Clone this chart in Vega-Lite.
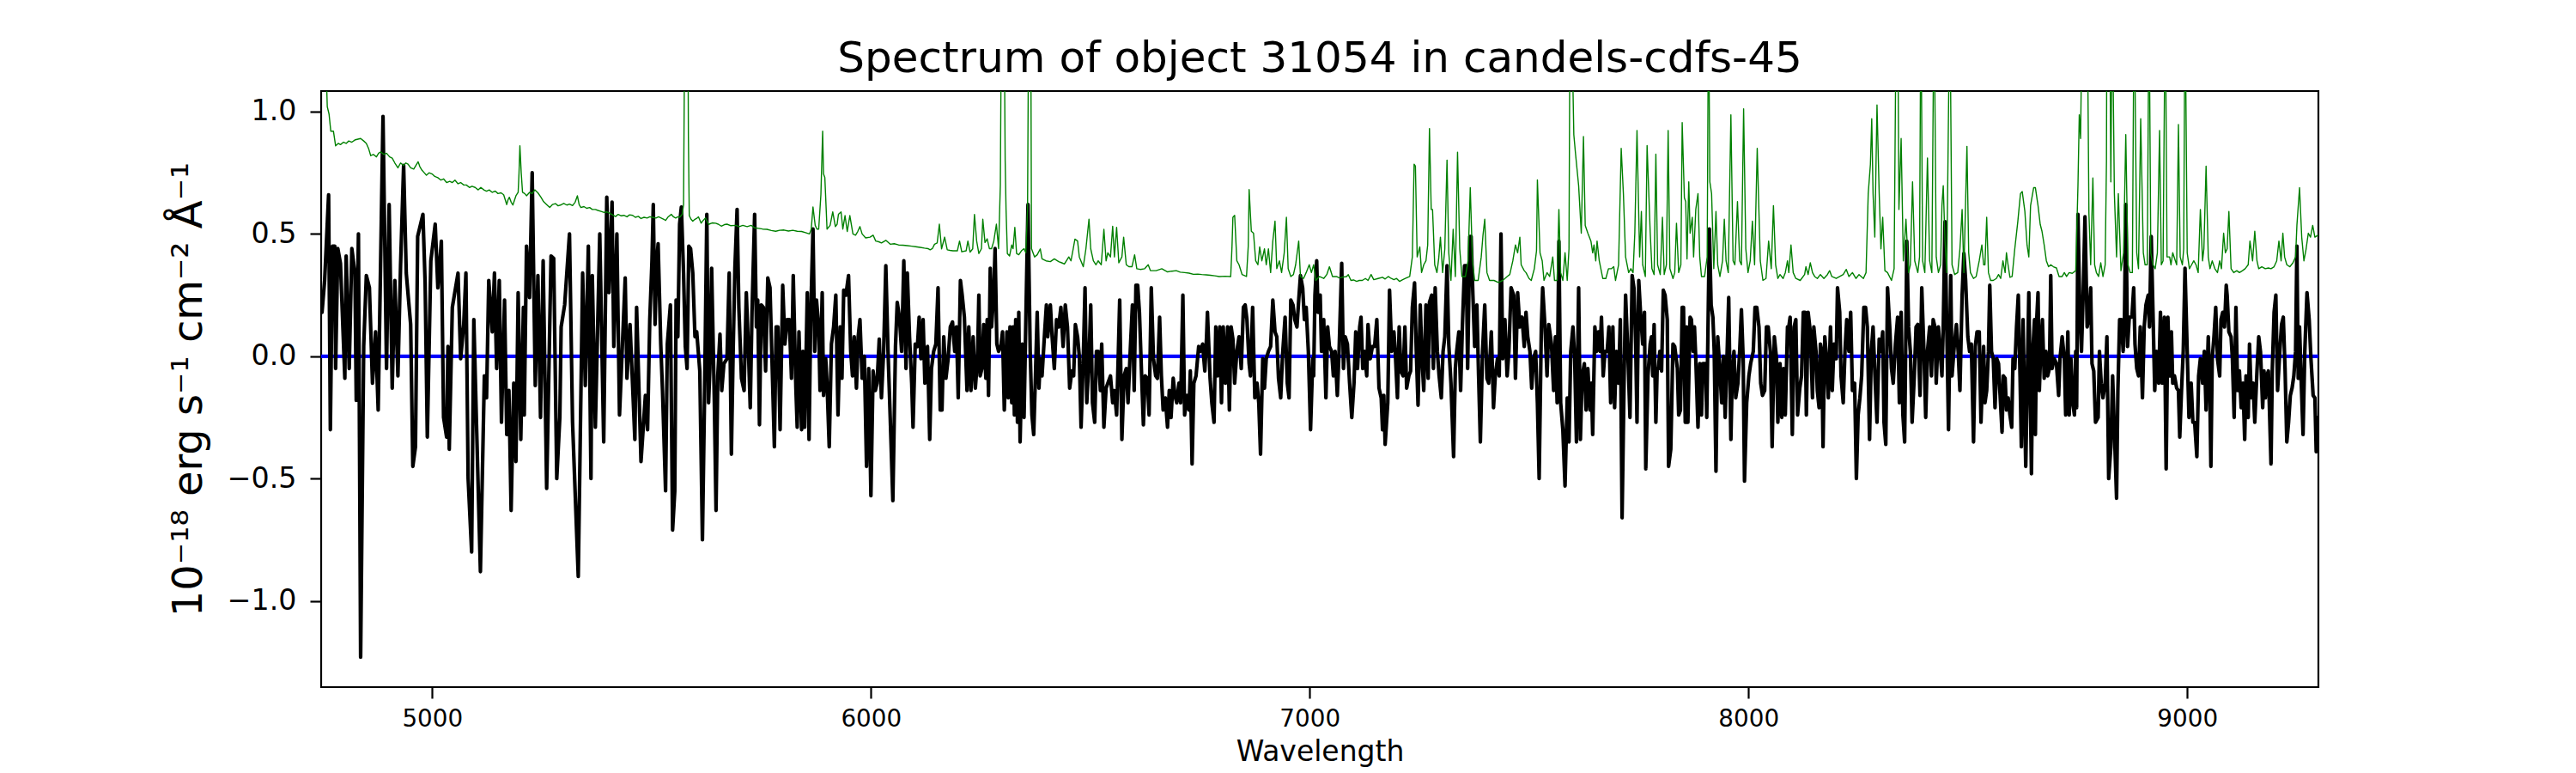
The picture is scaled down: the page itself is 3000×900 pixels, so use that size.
{
  "$schema": "https://vega.github.io/schema/vega-lite/v6.json",
  "width": 2326,
  "height": 694,
  "autosize": {"type": "none"},
  "padding": {"left": 374, "top": 106, "right": 300, "bottom": 100},
  "background": "white",
  "title": {
    "text": "Spectrum of object 31054 in candels-cdfs-45",
    "font": "DejaVu Sans",
    "fontSize": 50,
    "fontWeight": "normal",
    "color": "black",
    "frame": "group",
    "anchor": "middle",
    "baseline": "alphabetic",
    "offset": 22,
    "dy": 50
  },
  "config": {
    "view": {"stroke": "black", "strokeWidth": 2.2},
    "axis": {
      "domain": false,
      "grid": false,
      "ticks": true,
      "tickColor": "black",
      "tickWidth": 2.2,
      "tickSize": 13,
      "labelColor": "black",
      "labelFont": "DejaVu Sans",
      "labelOverlap": false,
      "labelFlush": false,
      "titleFont": "DejaVu Sans",
      "titleColor": "black",
      "titleFontWeight": "normal"
    },
    "line": {"strokeJoin": "round", "strokeCap": "round"}
  },
  "datasets": {
    "flux": [
      {"w":4749,"f":0.18},{"w":4755,"f":0.31},{"w":4764,"f":0.66},{"w":4768,"f":-0.30},{"w":4773,"f":0.45},{"w":4778,"f":0.45},{"w":4780,"f":-0.05},{"w":4785,"f":0.44},{"w":4791,"f":0.38},{"w":4801,"f":-0.09},{"w":4804,"f":0.41},{"w":4811,"f":-0.05},{"w":4817,"f":0.44},{"w":4824,"f":0.34},{"w":4827,"f":-0.18},{"w":4832,"f":0.50},{"w":4837,"f":-1.23},{"w":4844,"f":0.04},{"w":4850,"f":0.33},{"w":4857,"f":0.28},{"w":4864,"f":-0.11},{"w":4871,"f":0.10},{"w":4877,"f":-0.22},{"w":4888,"f":0.98},{"w":4896,"f":-0.05},{"w":4902,"f":0.62},{"w":4909,"f":-0.13},{"w":4915,"f":0.31},{"w":4922,"f":-0.08},{"w":4928,"f":0.37},{"w":4935,"f":0.78},{"w":4941,"f":0.34},{"w":4951,"f":0.13},{"w":4956,"f":-0.45},{"w":4962,"f":-0.37},{"w":4967,"f":0.49},{"w":4979,"f":0.58},{"w":4984,"f":0.30},{"w":4989,"f":-0.33},{"w":4997,"f":0.39},{"w":5007,"f":0.54},{"w":5013,"f":0.28},{"w":5021,"f":0.47},{"w":5026,"f":-0.25},{"w":5033,"f":-0.33},{"w":5036,"f":0.04},{"w":5039,"f":-0.38},{"w":5046,"f":0.20},{"w":5059,"f":0.34},{"w":5065,"f":-0.01},{"w":5072,"f":0.13},{"w":5077,"f":0.34},{"w":5082,"f":-0.50},{"w":5090,"f":-0.80},{"w":5095,"f":0.15},{"w":5101,"f":-0.27},{"w":5110,"f":-0.88},{"w":5119,"f":-0.08},{"w":5124,"f":-0.17},{"w":5129,"f":0.31},{"w":5137,"f":0.10},{"w":5142,"f":0.34},{"w":5147,"f":-0.05},{"w":5153,"f":0.31},{"w":5158,"f":-0.27},{"w":5165,"f":0.23},{"w":5170,"f":-0.32},{"w":5175,"f":-0.14},{"w":5180,"f":-0.63},{"w":5186,"f":-0.11},{"w":5191,"f":-0.43},{"w":5196,"f":0.26},{"w":5202,"f":-0.34},{"w":5208,"f":0.20},{"w":5210,"f":-0.24},{"w":5215,"f":0.45},{"w":5222,"f":0.24},{"w":5228,"f":0.75},{"w":5235,"f":-0.12},{"w":5241,"f":0.33},{"w":5247,"f":-0.25},{"w":5253,"f":0.39},{"w":5261,"f":-0.54},{"w":5271,"f":0.41},{"w":5277,"f":0.40},{"w":5284,"f":-0.50},{"w":5291,"f":-0.25},{"w":5294,"f":0.12},{"w":5302,"f":0.21},{"w":5313,"f":0.50},{"w":5320,"f":-0.27},{"w":5333,"f":-0.90},{"w":5343,"f":0.34},{"w":5349,"f":-0.12},{"w":5356,"f":0.45},{"w":5362,"f":-0.50},{"w":5365,"f":0.33},{"w":5372,"f":-0.29},{"w":5382,"f":0.50},{"w":5391,"f":-0.35},{"w":5398,"f":0.65},{"w":5403,"f":0.26},{"w":5410,"f":0.63},{"w":5414,"f":0.04},{"w":5421,"f":0.50},{"w":5427,"f":-0.24},{"w":5440,"f":0.32},{"w":5444,"f":-0.09},{"w":5451,"f":0.13},{"w":5462,"f":-0.34},{"w":5466,"f":0.20},{"w":5476,"f":-0.43},
      {"w":5486,"f":-0.16},{"w":5491,"f":-0.30},{"w":5496,"f":0.15},{"w":5501,"f":0.39},{"w":5504,"f":0.62},{"w":5508,"f":0.13},{"w":5512,"f":0.39},{"w":5515,"f":0.46},{"w":5521,"f":0.05},{"w":5525,"f":-0.14},{"w":5532,"f":-0.55},{"w":5536,"f":0.05},{"w":5543,"f":0.21},{"w":5548,"f":-0.71},{"w":5553,"f":-0.55},{"w":5556,"f":0.23},{"w":5560,"f":0.08},{"w":5564,"f":0.54},{"w":5568,"f":0.61},{"w":5573,"f":0.34},{"w":5577,"f":0.04},{"w":5581,"f":-0.05},{"w":5585,"f":0.45},{"w":5589,"f":0.44},{"w":5594,"f":0.34},{"w":5599,"f":0.08},{"w":5603,"f":0.10},{"w":5610,"f":-0.06},{"w":5616,"f":-0.75},{"w":5621,"f":-0.14},{"w":5626,"f":0.58},{"w":5630,"f":-0.19},{"w":5633,"f":-0.05},{"w":5637,"f":0.36},{"w":5643,"f":-0.17},{"w":5647,"f":-0.63},{"w":5651,"f":-0.08},{"w":5656,"f":0.09},{"w":5660,"f":-0.14},{"w":5665,"f":-0.03},{"w":5672,"f":-0.01},{"w":5677,"f":0.34},{"w":5682,"f":-0.40},{"w":5686,"f":0.02},{"w":5690,"f":0.36},{"w":5695,"f":0.60},{"w":5699,"f":0.20},{"w":5705,"f":-0.09},{"w":5711,"f":-0.14},{"w":5716,"f":0.26},{"w":5721,"f":0.02},{"w":5725,"f":-0.21},{"w":5729,"f":0.18},{"w":5735,"f":0.58},{"w":5739,"f":0.12},{"w":5742,"f":0.23},{"w":5746,"f":-0.28},{"w":5750,"f":0.21},{"w":5755,"f":0.20},{"w":5760,"f":-0.06},{"w":5765,"f":0.32},{"w":5770,"f":0.28},{"w":5774,"f":0.02},{"w":5780,"f":-0.37},{"w":5784,"f":0.12},{"w":5788,"f":0.12},{"w":5793,"f":-0.30},{"w":5799,"f":0.29},{"w":5804,"f":0.05},{"w":5809,"f":0.15},{"w":5814,"f":0.15},{"w":5819,"f":-0.09},{"w":5823,"f":0.33},{"w":5829,"f":-0.13},{"w":5832,"f":-0.29},{"w":5836,"f":0.10},{"w":5842,"f":-0.30},{"w":5845,"f":0.02},{"w":5849,"f":-0.29},{"w":5855,"f":0.26},{"w":5859,"f":-0.34},{"w":5863,"f":0.18},{"w":5868,"f":0.52},{"w":5872,"f":0.02},{"w":5876,"f":0.23},{"w":5881,"f":0.12},{"w":5884,"f":-0.14},{"w":5889,"f":0.26},{"w":5892,"f":-0.16},{"w":5897,"f":-0.01},{"w":5900,"f":-0.11},{"w":5905,"f":-0.37},{"w":5910,"f":0.05},{"w":5915,"f":0.12},{"w":5920,"f":0.25},{"w":5925,"f":-0.24},{"w":5930,"f":0.12},{"w":5934,"f":-0.09},{"w":5938,"f":0.27},{"w":5943,"f":0.25},{"w":5949,"f":0.33},{"w":5954,"f":0.02},{"w":5958,"f":-0.08},{"w":5962,"f":0.08},{"w":5967,"f":-0.13},{"w":5971,"f":0.08},{"w":5975,"f":0.15},{"w":5980,"f":-0.09},{"w":5985,"f":0.00},{"w":5990,"f":-0.45},{"w":5995,"f":-0.05},{"w":6000,"f":-0.57},{"w":6005,"f":-0.06},{"w":6010,"f":-0.14},{"w":6014,"f":-0.11},{"w":6019,"f":0.07},{"w":6024,"f":-0.17},{"w":6029,"f":0.02},{"w":6034,"f":0.37},{"w":6039,"f":0.02},{"w":6044,"f":-0.25},{"w":6050,"f":-0.59},{"w":6056,"f":0.04},{"w":6060,"f":0.22},{"w":6065,"f":0.16},{"w":6070,"f":0.02},{"w":6075,"f":0.39},{"w":6080,"f":-0.05},{"w":6083,"f":0.34},{"w":6088,"f":0.08},{"w":6093,"f":-0.11},{"w":6096,"f":-0.29},{"w":6101,"f":0.05},{"w":6106,"f":0.04},{"w":6110,"f":0.16},{"w":6114,"f":-0.01},{"w":6119,"f":0.15},{"w":6123,"f":-0.11},{"w":6129,"f":0.04},{"w":6134,"f":-0.34},{"w":6138,"f":-0.05},{"w":6143,"f":0.02},{"w":6148,"f":0.05},{"w":6153,"f":0.28},{"w":6158,"f":-0.22},{"w":6162,"f":-0.22},{"w":6166,"f":0.08},{"w":6171,"f":-0.09},{"w":6176,"f":-0.01},{"w":6181,"f":0.12},{"w":6186,"f":0.14},{"w":6191,"f":0.02},{"w":6195,"f":0.12},{"w":6199,"f":-0.17},{"w":6204,"f":0.31},{"w":6208,"f":0.25},{"w":6213,"f":0.16},{"w":6219,"f":-0.14},{"w":6223,"f":0.12},{"w":6228,"f":-0.14},{"w":6233,"f":0.08},{"w":6238,"f":-0.13},{"w":6243,"f":-0.01},
      {"w":6246,"f":0.25},{"w":6249,"f":-0.08},{"w":6253,"f":-0.05},{"w":6257,"f":0.13},{"w":6262,"f":-0.09},{"w":6265,"f":0.15},{"w":6268,"f":-0.16},{"w":6272,"f":0.36},{"w":6275,"f":0.12},{"w":6280,"f":0.26},{"w":6283,"f":0.44},{"w":6287,"f":0.05},{"w":6291,"f":0.02},{"w":6296,"f":0.04},{"w":6300,"f":0.10},{"w":6304,"f":-0.22},{"w":6310,"f":0.10},{"w":6313,"f":-0.17},{"w":6317,"f":0.12},{"w":6321,"f":-0.19},{"w":6324,"f":0.12},{"w":6327,"f":-0.24},{"w":6330,"f":0.15},{"w":6334,"f":-0.27},{"w":6337,"f":0.18},{"w":6340,"f":-0.35},{"w":6345,"f":0.05},{"w":6349,"f":-0.25},{"w":6352,"f":0.04},{"w":6358,"f":0.62},{"w":6363,"f":0.02},{"w":6367,"f":-0.24},{"w":6371,"f":-0.32},{"w":6375,"f":-0.08},{"w":6379,"f":0.18},{"w":6383,"f":-0.13},{"w":6386,"f":-0.01},{"w":6390,"f":-0.08},{"w":6396,"f":0.10},{"w":6400,"f":0.21},{"w":6403,"f":0.08},{"w":6409,"f":0.21},{"w":6413,"f":0.08},{"w":6418,"f":-0.05},{"w":6423,"f":0.15},{"w":6428,"f":0.12},{"w":6433,"f":0.20},{"w":6438,"f":0.04},{"w":6443,"f":0.21},{"w":6448,"f":0.12},{"w":6453,"f":-0.13},{"w":6458,"f":-0.06},{"w":6462,"f":-0.08},{"w":6466,"f":0.13},{"w":6471,"f":0.08},{"w":6475,"f":0.00},{"w":6479,"f":-0.29},{"w":6484,"f":-0.01},{"w":6488,"f":0.28},{"w":6492,"f":-0.19},{"w":6497,"f":-0.01},{"w":6501,"f":0.21},{"w":6505,"f":-0.19},{"w":6510,"f":-0.27},{"w":6514,"f":0.02},{"w":6518,"f":0.02},{"w":6523,"f":-0.14},{"w":6526,"f":0.05},{"w":6531,"f":-0.29},{"w":6536,"f":-0.13},{"w":6540,"f":-0.11},{"w":6546,"f":-0.08},{"w":6551,"f":-0.19},{"w":6555,"f":-0.14},{"w":6560,"f":-0.24},{"w":6564,"f":0.02},{"w":6567,"f":0.23},{"w":6572,"f":-0.34},{"w":6577,"f":-0.08},{"w":6582,"f":-0.05},{"w":6586,"f":-0.19},{"w":6591,"f":0.02},{"w":6596,"f":0.21},{"w":6600,"f":-0.14},{"w":6604,"f":0.29},{"w":6608,"f":0.29},{"w":6612,"f":0.18},{"w":6617,"f":-0.08},{"w":6621,"f":-0.28},{"w":6625,"f":-0.08},{"w":6630,"f":-0.09},{"w":6634,"f":-0.24},{"w":6639,"f":0.28},{"w":6644,"f":-0.01},{"w":6649,"f":-0.08},{"w":6653,"f":-0.09},{"w":6658,"f":0.16},{"w":6662,"f":-0.08},{"w":6666,"f":-0.22},{"w":6671,"f":-0.17},{"w":6676,"f":-0.29},{"w":6680,"f":-0.14},{"w":6684,"f":-0.25},{"w":6689,"f":-0.09},{"w":6693,"f":-0.16},{"w":6697,"f":-0.19},{"w":6702,"f":-0.11},{"w":6706,"f":-0.19},{"w":6711,"f":0.25},{"w":6715,"f":-0.24},{"w":6720,"f":-0.16},{"w":6725,"f":-0.22},{"w":6728,"f":-0.06},{"w":6732,"f":-0.44},{"w":6736,"f":-0.11},{"w":6741,"f":-0.08},{"w":6747,"f":0.04},{"w":6751,"f":0.02},{"w":6756,"f":0.05},{"w":6761,"f":-0.06},{"w":6765,"f":0.08},{"w":6767,"f":0.18},{"w":6773,"f":-0.09},{"w":6777,"f":-0.19},{"w":6782,"f":-0.27},{"w":6786,"f":0.12},{"w":6790,"f":-0.08},{"w":6795,"f":0.12},{"w":6799,"f":-0.19},{"w":6803,"f":0.12},{"w":6808,"f":-0.11},{"w":6813,"f":0.12},{"w":6817,"f":-0.22},{"w":6821,"f":0.12},{"w":6825,"f":0.07},{"w":6829,"f":-0.11},{"w":6834,"f":0.02},{"w":6839,"f":0.08},{"w":6844,"f":-0.05},{"w":6849,"f":0.20},{"w":6853,"f":0.21},{"w":6857,"f":0.15},{"w":6862,"f":-0.03},{"w":6865,"f":-0.08},{"w":6870,"f":0.20},{"w":6875,"f":-0.17},{"w":6880,"f":-0.11},{"w":6884,"f":-0.19},{"w":6888,"f":-0.40},{"w":6893,"f":-0.01},{"w":6897,"f":-0.13},{"w":6901,"f":-0.01},{"w":6906,"f":0.02},{"w":6911,"f":0.04},{"w":6916,"f":0.23},{"w":6921,"f":0.10},{"w":6925,"f":0.08},{"w":6929,"f":-0.09},{"w":6934,"f":-0.17},{"w":6938,"f":0.00},{"w":6944,"f":0.16},{"w":6949,"f":-0.11},{"w":6953,"f":-0.17},{"w":6957,"f":0.23},{"w":6962,"f":0.21},{"w":6966,"f":0.15},{"w":6971,"f":0.12},{"w":6975,"f":0.23},{"w":6979,"f":0.33},{"w":6984,"f":0.28},{"w":6988,"f":0.15},{"w":6992,"f":0.20},{"w":6997,"f":0.02},{"w":7002,"f":-0.30},{"w":7007,"f":-0.01},
      {"w":7009,"f":-0.08},{"w":7012,"f":0.25},{"w":7016,"f":0.39},{"w":7019,"f":0.18},{"w":7024,"f":0.25},{"w":7027,"f":0.02},{"w":7032,"f":0.15},{"w":7037,"f":-0.17},{"w":7041,"f":0.12},{"w":7045,"f":0.04},{"w":7050,"f":0.02},{"w":7054,"f":-0.08},{"w":7058,"f":0.02},{"w":7063,"f":-0.16},{"w":7067,"f":0.02},{"w":7073,"f":0.38},{"w":7077,"f":-0.05},{"w":7081,"f":0.08},{"w":7086,"f":0.05},{"w":7091,"f":-0.11},{"w":7096,"f":-0.25},{"w":7101,"f":-0.11},{"w":7105,"f":0.10},{"w":7109,"f":-0.05},{"w":7114,"f":0.12},{"w":7117,"f":0.16},{"w":7121,"f":-0.05},{"w":7125,"f":0.02},{"w":7130,"f":-0.08},{"w":7133,"f":0.13},{"w":7138,"f":-0.01},{"w":7143,"f":0.04},{"w":7148,"f":0.04},{"w":7153,"f":0.15},{"w":7158,"f":-0.13},{"w":7163,"f":-0.17},{"w":7166,"f":-0.30},{"w":7169,"f":-0.16},{"w":7172,"f":-0.36},{"w":7178,"f":-0.19},{"w":7182,"f":0.27},{"w":7187,"f":0.02},{"w":7192,"f":0.10},{"w":7195,"f":0.02},{"w":7200,"f":-0.17},{"w":7204,"f":0.12},{"w":7208,"f":-0.06},{"w":7213,"f":-0.08},{"w":7217,"f":0.12},{"w":7221,"f":-0.13},{"w":7226,"f":-0.08},{"w":7230,"f":-0.06},{"w":7234,"f":0.20},{"w":7239,"f":0.30},{"w":7243,"f":0.02},{"w":7247,"f":-0.20},{"w":7252,"f":0.21},{"w":7256,"f":-0.01},{"w":7260,"f":-0.14},{"w":7265,"f":0.21},{"w":7270,"f":-0.09},{"w":7273,"f":0.22},{"w":7278,"f":0.25},{"w":7282,"f":-0.05},{"w":7286,"f":0.28},{"w":7291,"f":0.02},{"w":7295,"f":-0.08},{"w":7300,"f":-0.17},{"w":7304,"f":0.02},{"w":7308,"f":0.08},{"w":7313,"f":0.37},{"w":7317,"f":0.05},{"w":7322,"f":-0.11},{"w":7328,"f":-0.41},{"w":7332,"f":-0.05},{"w":7335,"f":0.02},{"w":7340,"f":0.10},{"w":7344,"f":-0.14},{"w":7348,"f":0.12},{"w":7353,"f":0.37},{"w":7357,"f":0.37},{"w":7360,"f":-0.05},{"w":7365,"f":0.49},{"w":7368,"f":0.49},{"w":7372,"f":0.25},{"w":7376,"f":0.04},{"w":7381,"f":0.21},{"w":7385,"f":-0.08},{"w":7389,"f":-0.35},{"w":7394,"f":0.02},{"w":7399,"f":0.21},{"w":7404,"f":-0.09},{"w":7408,"f":-0.11},{"w":7414,"f":0.10},{"w":7419,"f":-0.21},{"w":7423,"f":-0.08},{"w":7428,"f":-0.01},{"w":7432,"f":-0.08},{"w":7436,"f":0.50},{"w":7440,"f":-0.01},{"w":7445,"f":0.15},{"w":7450,"f":-0.08},{"w":7454,"f":0.02},{"w":7459,"f":0.28},{"w":7465,"f":0.25},{"w":7469,"f":-0.09},{"w":7474,"f":0.26},{"w":7479,"f":0.12},{"w":7484,"f":0.16},{"w":7489,"f":0.04},{"w":7493,"f":0.18},{"w":7497,"f":0.08},{"w":7502,"f":0.02},{"w":7506,"f":-0.13},{"w":7510,"f":-0.01},{"w":7515,"f":0.02},{"w":7519,"f":-0.19},{"w":7523,"f":-0.50},{"w":7528,"f":0.12},{"w":7531,"f":0.28},{"w":7536,"f":0.13},{"w":7541,"f":-0.08},{"w":7545,"f":0.13},{"w":7551,"f":0.05},{"w":7556,"f":-0.14},{"w":7560,"f":0.08},{"w":7564,"f":-0.19},{"w":7568,"f":0.47},{"w":7572,"f":-0.19},{"w":7577,"f":-0.30},{"w":7582,"f":-0.53},{"w":7587,"f":-0.17},{"w":7591,"f":-0.35},{"w":7595,"f":0.02},{"w":7600,"f":0.12},{"w":7604,"f":-0.01},{"w":7608,"f":-0.35},{"w":7613,"f":0.28},{"w":7617,"f":-0.34},{"w":7621,"f":-0.08},{"w":7626,"f":-0.03},{"w":7630,"f":-0.22},{"w":7634,"f":-0.05},{"w":7639,"f":-0.22},{"w":7642,"f":-0.11},{"w":7645,"f":-0.32},{"w":7650,"f":0.12},{"w":7654,"f":0.02},{"w":7658,"f":0.10},{"w":7662,"f":0.02},{"w":7665,"f":0.16},{"w":7669,"f":-0.08},{"w":7673,"f":0.02},{"w":7678,"f":0.02},{"w":7682,"f":0.12},{"w":7686,"f":-0.19},{"w":7691,"f":0.12},{"w":7695,"f":-0.21},{"w":7699,"f":0.02},{"w":7704,"f":-0.11},{"w":7708,"f":0.15},{"w":7712,"f":-0.66},{"w":7717,"f":-0.05},{"w":7720,"f":0.25},{"w":7725,"f":0.02},{"w":7730,"f":-0.25},{"w":7735,"f":0.33},{"w":7739,"f":0.28},{"w":7743,"f":0.05},{"w":7746,"f":-0.27},{"w":7750,"f":0.31},{"w":7754,"f":0.18},{"w":7759,"f":0.05},{"w":7763,"f":0.18},{"w":7766,"f":-0.46},{"w":7771,"f":-0.08},
      {"w":7776,"f":0.05},{"w":7779,"f":0.08},{"w":7782,"f":-0.08},{"w":7785,"f":0.13},{"w":7789,"f":-0.27},{"w":7792,"f":-0.05},{"w":7795,"f":-0.05},{"w":7798,"f":0.02},{"w":7802,"f":-0.06},{"w":7806,"f":0.27},{"w":7810,"f":0.25},{"w":7815,"f":0.15},{"w":7818,"f":-0.45},{"w":7823,"f":-0.38},{"w":7828,"f":0.05},{"w":7832,"f":0.04},{"w":7838,"f":-0.05},{"w":7841,"f":-0.24},{"w":7845,"f":-0.22},{"w":7849,"f":0.20},{"w":7852,"f":0.20},{"w":7856,"f":-0.27},{"w":7859,"f":0.12},{"w":7862,"f":-0.27},{"w":7867,"f":0.16},{"w":7870,"f":0.15},{"w":7874,"f":0.02},{"w":7877,"f":0.12},{"w":7880,"f":-0.01},{"w":7885,"f":-0.29},{"w":7889,"f":-0.03},{"w":7893,"f":-0.24},{"w":7896,"f":-0.03},{"w":7902,"f":-0.03},{"w":7905,"f":-0.25},{"w":7911,"f":0.52},{"w":7915,"f":0.21},{"w":7919,"f":0.16},{"w":7922,"f":0.02},{"w":7926,"f":-0.47},{"w":7930,"f":0.08},{"w":7934,"f":-0.03},{"w":7939,"f":-0.19},{"w":7943,"f":0.00},{"w":7947,"f":-0.25},{"w":7952,"f":0.05},{"w":7955,"f":0.24},{"w":7960,"f":-0.34},{"w":7963,"f":-0.08},{"w":7967,"f":0.02},{"w":7971,"f":-0.17},{"w":7976,"f":-0.11},{"w":7980,"f":0.02},{"w":7984,"f":0.19},{"w":7988,"f":-0.01},{"w":7991,"f":-0.51},{"w":7996,"f":-0.19},{"w":8001,"f":-0.08},{"w":8005,"f":-0.03},{"w":8011,"f":0.02},{"w":8015,"f":0.20},{"w":8019,"f":0.20},{"w":8024,"f":0.12},{"w":8028,"f":-0.11},{"w":8032,"f":-0.16},{"w":8037,"f":-0.14},{"w":8041,"f":0.12},{"w":8045,"f":0.12},{"w":8050,"f":0.02},{"w":8054,"f":-0.37},{"w":8059,"f":0.08},{"w":8064,"f":-0.01},{"w":8067,"f":-0.27},{"w":8072,"f":-0.03},{"w":8076,"f":-0.25},{"w":8080,"f":-0.05},{"w":8084,"f":-0.24},{"w":8089,"f":0.12},{"w":8092,"f":0.12},{"w":8095,"f":0.16},{"w":8100,"f":-0.32},{"w":8104,"f":0.12},{"w":8108,"f":0.15},{"w":8112,"f":-0.24},{"w":8117,"f":-0.13},{"w":8121,"f":-0.08},{"w":8125,"f":0.18},{"w":8129,"f":0.18},{"w":8132,"f":-0.24},{"w":8136,"f":0.18},{"w":8141,"f":0.10},{"w":8146,"f":-0.17},{"w":8149,"f":0.12},{"w":8154,"f":0.02},{"w":8157,"f":-0.14},{"w":8161,"f":-0.21},{"w":8164,"f":0.05},{"w":8167,"f":0.02},{"w":8170,"f":-0.37},{"w":8174,"f":0.08},{"w":8178,"f":-0.01},{"w":8182,"f":-0.17},{"w":8187,"f":0.12},{"w":8191,"f":-0.14},{"w":8195,"f":0.05},{"w":8200,"f":-0.01},{"w":8203,"f":0.28},{"w":8208,"f":0.18},{"w":8211,"f":-0.08},{"w":8216,"f":-0.19},{"w":8220,"f":0.02},{"w":8224,"f":0.15},{"w":8229,"f":0.02},{"w":8233,"f":0.18},{"w":8237,"f":-0.14},{"w":8242,"f":-0.11},{"w":8246,"f":-0.50},{"w":8250,"f":-0.24},{"w":8254,"f":-0.17},{"w":8258,"f":-0.08},{"w":8263,"f":0.20},{"w":8267,"f":0.20},{"w":8271,"f":0.12},{"w":8276,"f":-0.34},{"w":8280,"f":0.02},{"w":8284,"f":0.12},{"w":8289,"f":-0.11},{"w":8293,"f":-0.27},{"w":8298,"f":0.07},{"w":8302,"f":0.02},{"w":8306,"f":0.10},{"w":8309,"f":-0.27},{"w":8313,"f":-0.36},{"w":8317,"f":0.28},{"w":8322,"f":0.12},{"w":8326,"f":-0.05},{"w":8330,"f":-0.11},{"w":8335,"f":0.05},{"w":8340,"f":0.16},{"w":8344,"f":-0.19},{"w":8348,"f":0.18},{"w":8352,"f":-0.24},{"w":8356,"f":-0.35},{"w":8361,"f":0.47},{"w":8365,"f":0.12},{"w":8369,"f":0.02},{"w":8373,"f":-0.27},{"w":8378,"f":-0.08},{"w":8382,"f":0.12},{"w":8386,"f":0.13},{"w":8391,"f":-0.16},{"w":8395,"f":0.28},{"w":8400,"f":0.02},{"w":8404,"f":-0.25},{"w":8408,"f":0.02},{"w":8413,"f":0.12},{"w":8417,"f":-0.08},{"w":8421,"f":0.15},{"w":8425,"f":0.12},{"w":8428,"f":-0.11},{"w":8433,"f":0.12},{"w":8437,"f":0.02},{"w":8441,"f":-0.08},{"w":8444,"f":0.12},{"w":8448,"f":0.55},{"w":8452,"f":0.12},{"w":8456,"f":-0.30},{"w":8461,"f":0.33},{"w":8464,"f":-0.08},{"w":8469,"f":0.04},{"w":8474,"f":0.13},{"w":8478,"f":0.02},{"w":8482,"f":-0.14},{"w":8487,"f":0.25},{"w":8491,"f":0.42},{"w":8495,"f":0.31},{"w":8500,"f":0.08},{"w":8504,"f":0.02},{"w":8508,"f":0.05},{"w":8513,"f":-0.35},{"w":8517,"f":0.04},{"w":8521,"f":0.10},{"w":8526,"f":0.10},{"w":8530,"f":-0.27},
      {"w":8536,"f":0.04},{"w":8539,"f":-0.19},{"w":8543,"f":-0.14},{"w":8547,"f":0.02},{"w":8550,"f":0.29},{"w":8554,"f":0.02},{"w":8558,"f":-0.01},{"w":8562,"f":-0.21},{"w":8566,"f":-0.01},{"w":8570,"f":-0.03},{"w":8573,"f":-0.14},{"w":8578,"f":-0.31},{"w":8581,"f":-0.08},{"w":8585,"f":-0.09},{"w":8588,"f":-0.22},{"w":8592,"f":-0.17},{"w":8596,"f":-0.24},{"w":8600,"f":-0.29},{"w":8603,"f":-0.01},{"w":8607,"f":-0.05},{"w":8611,"f":0.12},{"w":8615,"f":0.25},{"w":8619,"f":-0.08},{"w":8622,"f":-0.37},{"w":8626,"f":0.15},{"w":8628,"f":-0.08},{"w":8632,"f":-0.45},{"w":8635,"f":-0.14},{"w":8639,"f":0.26},{"w":8642,"f":-0.11},{"w":8645,"f":-0.48},{"w":8648,"f":0.02},{"w":8652,"f":0.15},{"w":8654,"f":-0.32},{"w":8657,"f":0.15},{"w":8660,"f":0.26},{"w":8663,"f":-0.14},{"w":8666,"f":0.02},{"w":8670,"f":0.15},{"w":8674,"f":-0.09},{"w":8678,"f":0.02},{"w":8682,"f":-0.08},{"w":8686,"f":-0.05},{"w":8689,"f":0.33},{"w":8692,"f":-0.05},{"w":8697,"f":-0.01},{"w":8702,"f":-0.03},{"w":8707,"f":-0.16},{"w":8710,"f":-0.01},{"w":8715,"f":0.08},{"w":8720,"f":-0.01},{"w":8723,"f":-0.24},{"w":8728,"f":0.10},{"w":8731,"f":-0.24},{"w":8735,"f":-0.01},{"w":8739,"f":-0.19},{"w":8743,"f":-0.24},{"w":8746,"f":0.02},{"w":8748,"f":-0.21},{"w":8751,"f":0.58},{"w":8755,"f":0.21},{"w":8759,"f":0.02},{"w":8763,"f":0.26},{"w":8767,"f":0.57},{"w":8772,"f":0.12},{"w":8776,"f":0.16},{"w":8780,"f":0.28},{"w":8783,"f":-0.03},{"w":8787,"f":-0.06},{"w":8791,"f":-0.27},{"w":8797,"f":-0.25},{"w":8800,"f":0.02},{"w":8804,"f":-0.11},{"w":8808,"f":-0.17},{"w":8813,"f":-0.11},{"w":8817,"f":0.08},{"w":8821,"f":-0.50},{"w":8826,"f":-0.37},{"w":8830,"f":-0.08},{"w":8834,"f":-0.30},{"w":8839,"f":-0.58},{"w":8842,"f":-0.14},{"w":8846,"f":0.15},{"w":8850,"f":0.15},{"w":8854,"f":0.02},{"w":8857,"f":0.15},{"w":8860,"f":0.62},{"w":8864,"f":0.04},{"w":8868,"f":0.16},{"w":8874,"f":0.16},{"w":8878,"f":0.28},{"w":8881,"f":0.05},{"w":8885,"f":-0.05},{"w":8889,"f":-0.08},{"w":8893,"f":0.12},{"w":8898,"f":-0.17},{"w":8902,"f":0.12},{"w":8906,"f":0.21},{"w":8911,"f":0.25},{"w":8914,"f":0.12},{"w":8918,"f":0.49},{"w":8922,"f":0.18},{"w":8926,"f":-0.14},{"w":8930,"f":0.02},{"w":8935,"f":-0.11},{"w":8939,"f":0.18},{"w":8943,"f":-0.11},{"w":8948,"f":0.16},{"w":8952,"f":-0.46},{"w":8956,"f":0.16},{"w":8960,"f":-0.08},{"w":8964,"f":0.10},{"w":8967,"f":-0.11},{"w":8971,"f":-0.08},{"w":8976,"f":-0.13},{"w":8980,"f":-0.14},{"w":8983,"f":-0.33},{"w":8987,"f":-0.14},{"w":8991,"f":0.02},{"w":8995,"f":0.36},{"w":9000,"f":0.02},{"w":9004,"f":-0.25},{"w":9009,"f":-0.11},{"w":9013,"f":-0.27},{"w":9017,"f":-0.27},{"w":9022,"f":-0.41},{"w":9026,"f":-0.08},{"w":9030,"f":-0.01},{"w":9035,"f":-0.11},{"w":9039,"f":0.02},{"w":9043,"f":-0.22},{"w":9048,"f":0.08},{"w":9051,"f":-0.08},{"w":9054,"f":-0.45},{"w":9057,"f":-0.01},{"w":9061,"f":0.08},{"w":9065,"f":0.20},{"w":9069,"f":-0.01},{"w":9074,"f":-0.08},{"w":9077,"f":0.15},{"w":9081,"f":0.18},{"w":9085,"f":0.12},{"w":9089,"f":0.29},{"w":9091,"f":0.25},{"w":9095,"f":0.10},{"w":9100,"f":0.08},{"w":9103,"f":-0.01},{"w":9107,"f":-0.25},{"w":9111,"f":0.20},{"w":9115,"f":-0.14},{"w":9119,"f":-0.06},{"w":9123,"f":-0.21},{"w":9127,"f":-0.11},{"w":9131,"f":-0.34},{"w":9134,"f":-0.08},{"w":9139,"f":-0.25},{"w":9142,"f":0.05},{"w":9146,"f":-0.17},{"w":9150,"f":-0.11},{"w":9154,"f":-0.27},{"w":9159,"f":-0.06},{"w":9163,"f":0.08},{"w":9167,"f":0.02},{"w":9172,"f":-0.21},{"w":9175,"f":-0.06},{"w":9178,"f":-0.17},{"w":9181,"f":-0.08},{"w":9185,"f":-0.06},{"w":9191,"f":-0.44},{"w":9194,"f":-0.05},{"w":9198,"f":0.18},{"w":9202,"f":0.25},{"w":9206,"f":-0.14},{"w":9211,"f":0.02},{"w":9215,"f":0.13},{"w":9219,"f":0.16},{"w":9223,"f":-0.05},{"w":9227,"f":-0.35},{"w":9231,"f":-0.27},{"w":9235,"f":-0.16},{"w":9239,"f":-0.13},{"w":9243,"f":-0.08},{"w":9247,"f":0.02},{"w":9250,"f":0.45},{"w":9253,"f":-0.09},{"w":9256,"f":0.12},{"w":9260,"f":-0.11},{"w":9264,"f":-0.32},{"w":9268,"f":0.02},{"w":9273,"f":0.26},{"w":9278,"f":0.15},{"w":9282,"f":-0.01},{"w":9287,"f":-0.16},{"w":9291,"f":-0.17},{"w":9294,"f":-0.39},{"w":9298,"f":-0.25}
    ],
    "err": [
      {"w":4748,"e":1.5},{"w":4758,"e":1.2},{"w":4761,"e":1.02},{"w":4765,"e":0.99},{"w":4769,"e":0.92},{"w":4775,"e":0.92},{"w":4780,"e":0.86},{"w":4786,"e":0.87},{"w":4791,"e":0.865},{"w":4798,"e":0.875},{"w":4804,"e":0.87},{"w":4810,"e":0.88},{"w":4817,"e":0.875},{"w":4825,"e":0.885},{"w":4837,"e":0.89},{"w":4844,"e":0.88},{"w":4850,"e":0.87},{"w":4855,"e":0.85},{"w":4860,"e":0.82},{"w":4866,"e":0.825},{"w":4873,"e":0.815},{"w":4878,"e":0.83},{"w":4883,"e":0.835},{"w":4890,"e":0.825},{"w":4896,"e":0.83},{"w":4903,"e":0.815},{"w":4909,"e":0.81},{"w":4915,"e":0.79},{"w":4922,"e":0.77},{"w":4928,"e":0.79},{"w":4935,"e":0.78},{"w":4940,"e":0.79},{"w":4945,"e":0.785},{"w":4951,"e":0.77},{"w":4958,"e":0.765},{"w":4963,"e":0.78},{"w":4968,"e":0.795},{"w":4972,"e":0.775},{"w":4977,"e":0.76},{"w":4982,"e":0.75},{"w":4987,"e":0.74},{"w":4993,"e":0.75},{"w":5000,"e":0.745},{"w":5006,"e":0.735},{"w":5013,"e":0.73},{"w":5020,"e":0.72},{"w":5026,"e":0.725},{"w":5033,"e":0.71},{"w":5040,"e":0.715},{"w":5046,"e":0.71},{"w":5052,"e":0.72},{"w":5059,"e":0.705},{"w":5065,"e":0.71},{"w":5072,"e":0.7},{"w":5078,"e":0.7},{"w":5085,"e":0.69},{"w":5091,"e":0.695},{"w":5098,"e":0.69},{"w":5105,"e":0.68},{"w":5111,"e":0.69},{"w":5118,"e":0.68},{"w":5124,"e":0.675},{"w":5130,"e":0.68},{"w":5137,"e":0.67},{"w":5144,"e":0.675},{"w":5150,"e":0.665},{"w":5157,"e":0.668},{"w":5163,"e":0.66},{"w":5170,"e":0.62},{"w":5173,"e":0.64},{"w":5176,"e":0.65},{"w":5180,"e":0.63},{"w":5184,"e":0.618},{"w":5188,"e":0.64},{"w":5191,"e":0.656},{"w":5196,"e":0.67},{"w":5198,"e":0.75},{"w":5200,"e":0.86},{"w":5203,"e":0.75},{"w":5206,"e":0.67},{"w":5211,"e":0.665},{"w":5215,"e":0.656},{"w":5222,"e":0.67},{"w":5228,"e":0.665},{"w":5234,"e":0.68},{"w":5241,"e":0.668},{"w":5248,"e":0.65},{"w":5254,"e":0.632},{"w":5261,"e":0.62},{"w":5268,"e":0.608},{"w":5274,"e":0.62},{"w":5281,"e":0.624},{"w":5287,"e":0.615},{"w":5294,"e":0.619},{"w":5300,"e":0.625},{"w":5307,"e":0.618},{"w":5313,"e":0.622},{"w":5320,"e":0.616},{"w":5326,"e":0.63},{"w":5331,"e":0.656},{"w":5335,"e":0.62},{"w":5339,"e":0.608},{"w":5346,"e":0.612},{"w":5352,"e":0.605},{"w":5359,"e":0.608},{"w":5365,"e":0.6},{"w":5372,"e":0.6},{"w":5378,"e":0.596},{"w":5385,"e":0.592},{"w":5392,"e":0.588},{"w":5398,"e":0.59},{"w":5405,"e":0.584},{"w":5411,"e":0.578},{"w":5418,"e":0.571},{"w":5424,"e":0.58},{"w":5431,"e":0.574},{"w":5437,"e":0.576},{"w":5444,"e":0.57},{"w":5450,"e":0.578},{"w":5457,"e":0.576},{"w":5463,"e":0.568},{"w":5470,"e":0.572},{"w":5476,"e":0.563},{"w":5483,"e":0.568},{"w":5490,"e":0.565},{"w":5496,"e":0.57},
      {"w":5502,"e":0.568},{"w":5510,"e":0.565},{"w":5516,"e":0.57},{"w":5522,"e":0.565},{"w":5528,"e":0.56},{"w":5532,"e":0.555},{"w":5538,"e":0.57},{"w":5545,"e":0.58},{"w":5550,"e":0.57},{"w":5555,"e":0.565},{"w":5560,"e":0.57},{"w":5564,"e":0.568},{"w":5570,"e":0.58},{"w":5573,"e":0.62},{"w":5575,"e":1.2},{"w":5576,"e":1.8},{"w":5582,"e":1.8},{"w":5584,"e":0.9},{"w":5586,"e":0.575},{"w":5590,"e":0.56},{"w":5594,"e":0.552},{"w":5599,"e":0.56},{"w":5604,"e":0.565},{"w":5607,"e":0.57},{"w":5613,"e":0.544},{"w":5618,"e":0.556},{"w":5623,"e":0.565},{"w":5630,"e":0.539},{"w":5638,"e":0.545},{"w":5646,"e":0.544},{"w":5652,"e":0.54},{"w":5659,"e":0.532},{"w":5666,"e":0.538},{"w":5672,"e":0.54},{"w":5680,"e":0.534},{"w":5692,"e":0.535},{"w":5700,"e":0.53},{"w":5708,"e":0.535},{"w":5718,"e":0.53},{"w":5727,"e":0.535},{"w":5735,"e":0.525},{"w":5744,"e":0.523},{"w":5753,"e":0.52},{"w":5763,"e":0.519},{"w":5773,"e":0.514},{"w":5783,"e":0.511},{"w":5792,"e":0.515},{"w":5802,"e":0.516},{"w":5812,"e":0.512},{"w":5822,"e":0.515},{"w":5832,"e":0.511},{"w":5842,"e":0.51},{"w":5851,"e":0.505},{"w":5860,"e":0.5},{"w":5864,"e":0.52},{"w":5868,"e":0.61},{"w":5873,"e":0.535},{"w":5877,"e":0.52},{"w":5881,"e":0.52},{"w":5886,"e":0.66},{"w":5890,"e":0.92},{"w":5892,"e":0.745},{"w":5895,"e":0.73},{"w":5900,"e":0.52},{"w":5907,"e":0.535},{"w":5913,"e":0.59},{"w":5919,"e":0.53},{"w":5923,"e":0.54},{"w":5926,"e":0.58},{"w":5932,"e":0.59},{"w":5936,"e":0.52},{"w":5941,"e":0.575},{"w":5946,"e":0.51},{"w":5952,"e":0.575},{"w":5959,"e":0.5},{"w":5965,"e":0.495},{"w":5970,"e":0.51},{"w":5975,"e":0.53},{"w":5980,"e":0.5},{"w":5988,"e":0.484},{"w":5998,"e":0.487},{"w":6005,"e":0.495},{"w":6011,"e":0.471},{"w":6018,"e":0.468},{"w":6024,"e":0.463},{"w":6034,"e":0.474},{"w":6044,"e":0.458},{"w":6053,"e":0.46},{"w":6063,"e":0.455},{"w":6073,"e":0.454},{"w":6083,"e":0.452},{"w":6093,"e":0.45},{"w":6102,"e":0.448},{"w":6112,"e":0.445},{"w":6122,"e":0.442},{"w":6130,"e":0.44},{"w":6135,"e":0.435},{"w":6140,"e":0.44},{"w":6145,"e":0.458},{"w":6151,"e":0.463},{"w":6156,"e":0.54},{"w":6161,"e":0.439},{"w":6168,"e":0.487},{"w":6174,"e":0.435},{"w":6180,"e":0.433},{"w":6187,"e":0.431},{"w":6197,"e":0.431},{"w":6202,"e":0.471},{"w":6207,"e":0.427},{"w":6217,"e":0.431},{"w":6221,"e":0.471},{"w":6226,"e":0.426},{"w":6232,"e":0.439},{"w":6236,"e":0.58},{"w":6241,"e":0.471},
      {"w":6246,"e":0.42},{"w":6252,"e":0.44},{"w":6255,"e":0.56},{"w":6260,"e":0.465},{"w":6265,"e":0.48},{"w":6270,"e":0.44},{"w":6275,"e":0.44},{"w":6280,"e":0.47},{"w":6286,"e":0.54},{"w":6291,"e":0.44},{"w":6295,"e":0.7},{"w":6298,"e":1.6},{"w":6303,"e":1.6},{"w":6306,"e":0.8},{"w":6308,"e":0.6},{"w":6311,"e":0.42},{"w":6316,"e":0.41},{"w":6321,"e":0.455},{"w":6324,"e":0.44},{"w":6328,"e":0.527},{"w":6332,"e":0.42},{"w":6337,"e":0.415},{"w":6343,"e":0.431},{"w":6349,"e":0.44},{"w":6353,"e":0.423},{"w":6357,"e":0.6},{"w":6360,"e":1.6},{"w":6364,"e":1.6},{"w":6366,"e":0.44},{"w":6373,"e":0.406},{"w":6379,"e":0.415},{"w":6386,"e":0.439},{"w":6390,"e":0.398},{"w":6399,"e":0.39},{"w":6409,"e":0.387},{"w":6418,"e":0.398},{"w":6428,"e":0.387},{"w":6435,"e":0.382},{"w":6441,"e":0.377},{"w":6451,"e":0.406},{"w":6456,"e":0.39},{"w":6461,"e":0.439},{"w":6465,"e":0.479},{"w":6471,"e":0.471},{"w":6475,"e":0.406},{"w":6484,"e":0.366},{"w":6490,"e":0.439},{"w":6497,"e":0.56},{"w":6501,"e":0.439},{"w":6507,"e":0.39},{"w":6513,"e":0.374},{"w":6518,"e":0.39},{"w":6525,"e":0.374},{"w":6531,"e":0.519},{"w":6536,"e":0.39},{"w":6540,"e":0.423},{"w":6546,"e":0.406},{"w":6551,"e":0.531},{"w":6555,"e":0.406},{"w":6560,"e":0.527},{"w":6565,"e":0.382},{"w":6572,"e":0.406},{"w":6576,"e":0.487},{"w":6582,"e":0.374},{"w":6588,"e":0.366},{"w":6595,"e":0.366},{"w":6601,"e":0.415},{"w":6606,"e":0.358},{"w":6614,"e":0.355},{"w":6624,"e":0.358},{"w":6632,"e":0.374},{"w":6637,"e":0.35},{"w":6650,"e":0.35},{"w":6663,"e":0.358},{"w":6676,"e":0.345},{"w":6686,"e":0.348},{"w":6696,"e":0.35},{"w":6705,"e":0.344},{"w":6715,"e":0.342},{"w":6725,"e":0.34},{"w":6735,"e":0.335},{"w":6745,"e":0.336},{"w":6754,"e":0.334},{"w":6764,"e":0.333},{"w":6774,"e":0.331},{"w":6784,"e":0.329},{"w":6794,"e":0.326},{"w":6807,"e":0.327},{"w":6820,"e":0.326},{"w":6823,"e":0.45},{"w":6825,"e":0.568},{"w":6829,"e":0.576},{"w":6834,"e":0.39},{"w":6839,"e":0.374},{"w":6846,"e":0.334},{"w":6856,"e":0.326},{"w":6860,"e":0.45},{"w":6862,"e":0.681},{"w":6867,"e":0.511},{"w":6872,"e":0.503},{"w":6877,"e":0.39},{"w":6882,"e":0.374},{"w":6886,"e":0.447},{"w":6891,"e":0.39},{"w":6897,"e":0.439},{"w":6901,"e":0.374},{"w":6906,"e":0.439},{"w":6911,"e":0.342},{"w":6916,"e":0.471},{"w":6921,"e":0.552},{"w":6925,"e":0.358},{"w":6931,"e":0.39},{"w":6936,"e":0.342},{"w":6942,"e":0.423},{"w":6947,"e":0.568},{"w":6951,"e":0.358},{"w":6957,"e":0.326},{"w":6963,"e":0.334},{"w":6968,"e":0.374},{"w":6975,"e":0.471},{"w":6979,"e":0.326},{"w":6986,"e":0.318},{"w":6992,"e":0.342},{"w":6999,"e":0.374},{"w":7004,"e":0.342},
      {"w":7009,"e":0.374},{"w":7014,"e":0.31},{"w":7022,"e":0.326},{"w":7032,"e":0.318},{"w":7039,"e":0.334},{"w":7045,"e":0.366},{"w":7052,"e":0.326},{"w":7061,"e":0.326},{"w":7068,"e":0.32},{"w":7074,"e":0.323},{"w":7084,"e":0.326},{"w":7088,"e":0.334},{"w":7094,"e":0.31},{"w":7100,"e":0.312},{"w":7107,"e":0.306},{"w":7113,"e":0.31},{"w":7120,"e":0.31},{"w":7127,"e":0.318},{"w":7133,"e":0.31},{"w":7140,"e":0.334},{"w":7146,"e":0.313},{"w":7156,"e":0.318},{"w":7166,"e":0.323},{"w":7172,"e":0.316},{"w":7179,"e":0.326},{"w":7186,"e":0.318},{"w":7192,"e":0.313},{"w":7198,"e":0.318},{"w":7205,"e":0.306},{"w":7211,"e":0.312},{"w":7218,"e":0.318},{"w":7228,"e":0.326},{"w":7234,"e":0.406},{"w":7238,"e":0.785},{"w":7241,"e":0.777},{"w":7245,"e":0.406},{"w":7251,"e":0.447},{"w":7255,"e":0.342},{"w":7260,"e":0.374},{"w":7265,"e":0.39},{"w":7269,"e":0.455},{"w":7273,"e":0.931},{"w":7277,"e":0.6},{"w":7280,"e":0.6},{"w":7285,"e":0.374},{"w":7290,"e":0.342},{"w":7294,"e":0.398},{"w":7298,"e":0.487},{"w":7303,"e":0.342},{"w":7308,"e":0.439},{"w":7313,"e":0.802},{"w":7317,"e":0.423},{"w":7322,"e":0.31},{"w":7327,"e":0.519},{"w":7332,"e":0.326},{"w":7337,"e":0.834},{"w":7342,"e":0.439},{"w":7347,"e":0.326},{"w":7355,"e":0.326},{"w":7361,"e":0.39},{"w":7366,"e":0.689},{"w":7371,"e":0.39},{"w":7376,"e":0.31},{"w":7384,"e":0.31},{"w":7391,"e":0.406},{"w":7395,"e":0.495},{"w":7399,"e":0.56},{"w":7404,"e":0.342},{"w":7410,"e":0.31},{"w":7420,"e":0.31},{"w":7430,"e":0.302},{"w":7440,"e":0.31},{"w":7450,"e":0.326},{"w":7456,"e":0.334},{"w":7463,"e":0.39},{"w":7469,"e":0.455},{"w":7474,"e":0.423},{"w":7479,"e":0.487},{"w":7482,"e":0.374},{"w":7489,"e":0.35},{"w":7493,"e":0.342},{"w":7500,"e":0.318},{"w":7505,"e":0.31},{"w":7512,"e":0.358},{"w":7517,"e":0.431},{"w":7519,"e":0.721},{"w":7525,"e":0.423},{"w":7530,"e":0.39},{"w":7534,"e":0.31},{"w":7541,"e":0.342},{"w":7547,"e":0.326},{"w":7554,"e":0.406},{"w":7558,"e":0.31},{"w":7564,"e":0.31},{"w":7568,"e":0.6},{"w":7572,"e":0.342},{"w":7577,"e":0.31},{"w":7582,"e":0.423},{"w":7587,"e":0.31},{"w":7591,"e":0.439},{"w":7593,"e":1.3},{"w":7598,"e":1.3},{"w":7602,"e":0.906},{"w":7606,"e":0.826},{"w":7613,"e":0.697},{"w":7619,"e":0.503},{"w":7624,"e":0.898},{"w":7628,"e":0.535},{"w":7634,"e":0.503},{"w":7641,"e":0.471},{"w":7645,"e":0.423},{"w":7648,"e":0.455},{"w":7652,"e":0.39},{"w":7655,"e":0.471},{"w":7660,"e":0.39},{"w":7668,"e":0.318},{"w":7675,"e":0.318},{"w":7681,"e":0.358},{"w":7688,"e":0.358},{"w":7693,"e":0.366},{"w":7697,"e":0.31},{"w":7704,"e":0.374},{"w":7710,"e":0.85},{"w":7715,"e":0.665},{"w":7720,"e":0.406},{"w":7727,"e":0.342},{"w":7732,"e":0.358},{"w":7737,"e":0.342},{"w":7741,"e":0.503},{"w":7746,"e":0.923},{"w":7752,"e":0.406},{"w":7756,"e":0.592},{"w":7759,"e":0.374},{"w":7765,"e":0.326},{"w":7769,"e":0.861},
      {"w":7776,"e":0.511},{"w":7780,"e":0.358},{"w":7785,"e":0.334},{"w":7789,"e":0.826},{"w":7793,"e":0.374},{"w":7799,"e":0.334},{"w":7804,"e":0.568},{"w":7808,"e":0.334},{"w":7813,"e":0.374},{"w":7817,"e":0.923},{"w":7821,"e":0.358},{"w":7828,"e":0.318},{"w":7832,"e":0.342},{"w":7836,"e":0.544},{"w":7841,"e":0.342},{"w":7846,"e":0.374},{"w":7849,"e":0.955},{"w":7854,"e":0.648},{"w":7857,"e":0.632},{"w":7860,"e":0.398},{"w":7864,"e":0.713},{"w":7867,"e":0.503},{"w":7872,"e":0.568},{"w":7875,"e":0.406},{"w":7880,"e":0.6},{"w":7885,"e":0.665},{"w":7889,"e":0.406},{"w":7893,"e":0.326},{"w":7900,"e":0.326},{"w":7906,"e":0.406},{"w":7909,"e":1.5},{"w":7912,"e":0.713},{"w":7916,"e":0.665},{"w":7921,"e":0.358},{"w":7926,"e":0.592},{"w":7930,"e":0.374},{"w":7935,"e":0.326},{"w":7941,"e":0.39},{"w":7945,"e":0.56},{"w":7949,"e":0.39},{"w":7954,"e":0.342},{"w":7960,"e":0.987},{"w":7965,"e":0.39},{"w":7969,"e":0.374},{"w":7975,"e":0.632},{"w":7980,"e":0.39},{"w":7984,"e":0.374},{"w":7989,"e":1.011},{"w":7994,"e":0.439},{"w":7999,"e":0.342},{"w":8004,"e":0.39},{"w":8009,"e":0.552},{"w":8014,"e":0.374},{"w":8020,"e":0.85},{"w":8027,"e":0.39},{"w":8033,"e":0.31},{"w":8040,"e":0.318},{"w":8046,"e":0.471},{"w":8052,"e":0.358},{"w":8057,"e":0.616},{"w":8062,"e":0.374},{"w":8067,"e":0.318},{"w":8072,"e":0.334},{"w":8079,"e":0.318},{"w":8084,"e":0.342},{"w":8089,"e":0.39},{"w":8092,"e":0.342},{"w":8097,"e":0.455},{"w":8102,"e":0.342},{"w":8108,"e":0.318},{"w":8118,"e":0.31},{"w":8128,"e":0.334},{"w":8131,"e":0.366},{"w":8136,"e":0.334},{"w":8141,"e":0.382},{"w":8146,"e":0.342},{"w":8151,"e":0.326},{"w":8157,"e":0.318},{"w":8164,"e":0.334},{"w":8172,"e":0.318},{"w":8180,"e":0.334},{"w":8185,"e":0.35},{"w":8190,"e":0.326},{"w":8200,"e":0.318},{"w":8208,"e":0.326},{"w":8216,"e":0.334},{"w":8223,"e":0.355},{"w":8229,"e":0.326},{"w":8237,"e":0.342},{"w":8245,"e":0.318},{"w":8252,"e":0.334},{"w":8262,"e":0.318},{"w":8268,"e":0.342},{"w":8273,"e":0.665},{"w":8278,"e":0.785},{"w":8281,"e":0.971},{"w":8284,"e":0.665},{"w":8288,"e":0.487},{"w":8293,"e":1.027},{"w":8298,"e":0.665},{"w":8302,"e":0.439},{"w":8306,"e":0.568},{"w":8311,"e":0.35},{"w":8317,"e":0.342},{"w":8326,"e":0.31},{"w":8332,"e":0.358},{"w":8337,"e":1.5},{"w":8340,"e":1.5},{"w":8343,"e":0.6},{"w":8348,"e":0.89},{"w":8353,"e":0.39},{"w":8359,"e":0.56},{"w":8365,"e":0.342},{"w":8369,"e":0.374},{"w":8374,"e":0.713},{"w":8379,"e":0.39},{"w":8386,"e":0.342},{"w":8390,"e":0.406},{"w":8393,"e":1.5},{"w":8397,"e":0.39},{"w":8402,"e":0.342},{"w":8408,"e":0.81},{"w":8413,"e":0.39},{"w":8418,"e":0.342},{"w":8423,"e":1.5},{"w":8428,"e":0.406},{"w":8433,"e":0.342},{"w":8438,"e":0.374},{"w":8441,"e":0.616},{"w":8444,"e":0.697},{"w":8448,"e":0.471},{"w":8452,"e":0.342},{"w":8459,"e":1.5},{"w":8464,"e":0.374},{"w":8470,"e":0.334},{"w":8477,"e":0.342},{"w":8482,"e":0.439},{"w":8487,"e":0.6},{"w":8491,"e":0.342},{"w":8498,"e":0.858},{"w":8502,"e":0.423},{"w":8506,"e":0.342},{"w":8513,"e":0.318},{"w":8519,"e":0.326},{"w":8526,"e":0.39},{"w":8532,"e":0.455},
      {"w":8536,"e":0.374},{"w":8539,"e":0.374},{"w":8543,"e":0.568},{"w":8547,"e":0.342},{"w":8552,"e":0.31},{"w":8558,"e":0.31},{"w":8565,"e":0.318},{"w":8570,"e":0.334},{"w":8575,"e":0.318},{"w":8580,"e":0.39},{"w":8585,"e":0.342},{"w":8588,"e":0.423},{"w":8591,"e":0.382},{"w":8596,"e":0.323},{"w":8601,"e":0.326},{"w":8607,"e":0.439},{"w":8614,"e":0.552},{"w":8620,"e":0.665},{"w":8624,"e":0.673},{"w":8630,"e":0.592},{"w":8635,"e":0.455},{"w":8639,"e":0.406},{"w":8643,"e":0.616},{"w":8650,"e":0.689},{"w":8654,"e":0.689},{"w":8660,"e":0.616},{"w":8665,"e":0.539},{"w":8669,"e":0.511},{"w":8674,"e":0.455},{"w":8679,"e":0.39},{"w":8684,"e":0.366},{"w":8689,"e":0.374},{"w":8695,"e":0.366},{"w":8702,"e":0.361},{"w":8708,"e":0.326},{"w":8715,"e":0.326},{"w":8720,"e":0.342},{"w":8725,"e":0.326},{"w":8731,"e":0.342},{"w":8738,"e":0.339},{"w":8746,"e":0.35},{"w":8751,"e":0.697},{"w":8754,"e":0.987},{"w":8757,"e":0.89},{"w":8761,"e":1.5},{"w":8772,"e":1.5},{"w":8776,"e":0.584},{"w":8780,"e":0.374},{"w":8785,"e":0.729},{"w":8789,"e":0.374},{"w":8793,"e":0.342},{"w":8798,"e":0.326},{"w":8803,"e":0.382},{"w":8808,"e":0.326},{"w":8813,"e":0.374},{"w":8816,"e":0.8},{"w":8817,"e":1.5},{"w":8823,"e":1.5},{"w":8826,"e":0.713},{"w":8829,"e":1.5},{"w":8834,"e":0.665},{"w":8839,"e":0.406},{"w":8843,"e":0.665},{"w":8849,"e":0.35},{"w":8855,"e":0.423},{"w":8860,"e":0.906},{"w":8865,"e":0.374},{"w":8870,"e":0.342},{"w":8875,"e":0.342},{"w":8879,"e":1.5},{"w":8885,"e":0.423},{"w":8889,"e":0.358},{"w":8894,"e":0.971},{"w":8900,"e":0.423},{"w":8904,"e":0.374},{"w":8909,"e":0.374},{"w":8913,"e":1.5},{"w":8917,"e":0.423},{"w":8922,"e":0.374},{"w":8927,"e":0.358},{"w":8932,"e":0.423},{"w":8937,"e":0.923},{"w":8941,"e":0.374},{"w":8945,"e":0.39},{"w":8950,"e":1.5},{"w":8954,"e":0.406},{"w":8960,"e":0.406},{"w":8963,"e":0.374},{"w":8967,"e":0.423},{"w":8973,"e":0.39},{"w":8976,"e":0.374},{"w":8980,"e":0.947},{"w":8984,"e":0.406},{"w":8989,"e":0.374},{"w":8992,"e":0.439},{"w":8995,"e":1.5},{"w":9000,"e":0.423},{"w":9005,"e":0.358},{"w":9010,"e":0.374},{"w":9015,"e":0.39},{"w":9020,"e":0.374},{"w":9025,"e":0.342},{"w":9030,"e":0.6},{"w":9035,"e":0.39},{"w":9038,"e":0.439},{"w":9043,"e":0.777},{"w":9048,"e":0.406},{"w":9052,"e":0.358},{"w":9057,"e":0.39},{"w":9063,"e":0.358},{"w":9069,"e":0.342},{"w":9074,"e":0.39},{"w":9078,"e":0.358},{"w":9083,"e":0.503},{"w":9087,"e":0.423},{"w":9091,"e":0.439},{"w":9095,"e":0.592},{"w":9100,"e":0.358},{"w":9106,"e":0.342},{"w":9113,"e":0.35},{"w":9119,"e":0.342},{"w":9126,"e":0.35},{"w":9132,"e":0.358},{"w":9139,"e":0.374},{"w":9143,"e":0.471},{"w":9149,"e":0.39},{"w":9154,"e":0.511},{"w":9159,"e":0.39},{"w":9163,"e":0.358},{"w":9170,"e":0.366},{"w":9178,"e":0.358},{"w":9185,"e":0.361},{"w":9191,"e":0.358},{"w":9198,"e":0.366},{"w":9204,"e":0.39},{"w":9209,"e":0.471},{"w":9214,"e":0.39},{"w":9218,"e":0.503},{"w":9222,"e":0.406},{"w":9227,"e":0.374},{"w":9234,"e":0.366},{"w":9241,"e":0.382},{"w":9247,"e":0.406},{"w":9250,"e":0.535},{"w":9256,"e":0.689},{"w":9261,"e":0.487},{"w":9266,"e":0.39},{"w":9271,"e":0.439},{"w":9276,"e":0.503},{"w":9281,"e":0.487},{"w":9286,"e":0.535},{"w":9291,"e":0.487},{"w":9298,"e":0.495}
    ],
    "model": [{"level": 0}]
  },
  "layer": [
    {
      "data": {"name": "model"},
      "mark": {"type": "rule", "color": "blue", "strokeWidth": 4.2},
      "encoding": {
        "y": {"field": "level", "type": "quantitative", "scale": {"domain": [-1.352, 1.084], "nice": false, "zero": false}}
      }
    },
    {
      "data": {"name": "flux"},
      "mark": {"type": "line", "color": "black", "strokeWidth": 4.2, "clip": true},
      "encoding": {
        "x": {
          "field": "w", "type": "quantitative",
          "scale": {"domain": [4747, 9299], "nice": false, "zero": false},
          "axis": {"title": "Wavelength", "values": [5000, 6000, 7000, 8000, 9000], "format": "d", "labelFontSize": 27.8, "titleFontSize": 33, "labelPadding": 10, "titlePadding": 9}
        },
        "y": {
          "field": "f", "type": "quantitative",
          "scale": {"domain": [-1.352, 1.084], "nice": false, "zero": false},
          "axis": {"title": "10⁻¹⁸ erg s⁻¹ cm⁻² Å⁻¹", "values": [-1, -0.5, 0, 0.5, 1], "format": ".1f", "labelFontSize": 33.3, "titleFontSize": 48, "labelPadding": 16, "titlePadding": 20}
        }
      }
    },
    {
      "data": {"name": "err"},
      "mark": {"type": "line", "color": "green", "strokeWidth": 1.4, "clip": true},
      "encoding": {
        "x": {"field": "w", "type": "quantitative"},
        "y": {"field": "e", "type": "quantitative"}
      }
    }
  ]
}
